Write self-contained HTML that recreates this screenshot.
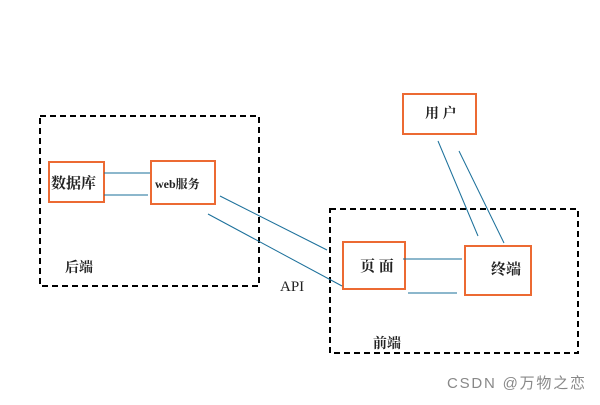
<!DOCTYPE html>
<html><head><meta charset="utf-8"><style>
body{margin:0;background:#fff;}
svg text{font-family:"Liberation Serif","Noto Serif CJK SC",serif;font-size:14px;fill:#222;font-weight:bold}
</style></head><body>
<svg width="600" height="400" xmlns="http://www.w3.org/2000/svg">
<rect width="600" height="400" fill="#fff"/>
<g fill="none" stroke="#000" stroke-width="2" stroke-dasharray="6,4">
<rect x="40" y="116" width="219" height="170"/>
<rect x="330" y="209" width="248" height="144"/>
</g>
<g fill="none" stroke="#ec6a33" stroke-width="2">
<rect x="49" y="162" width="55" height="40"/>
<rect x="151" y="161" width="64" height="43"/>
<rect x="343" y="242" width="62" height="47"/>
<rect x="465" y="246" width="66" height="49"/>
<rect x="403" y="94" width="73" height="40"/>
</g>
<g stroke="#1a6f9a" stroke-width="1">
<line x1="104" y1="173" x2="150" y2="173"/>
<line x1="104" y1="195" x2="148" y2="195"/>
<line x1="220" y1="196" x2="327" y2="250"/>
<line x1="208" y1="214" x2="342" y2="286"/>
<line x1="403" y1="259" x2="462" y2="259"/>
<line x1="408" y1="293" x2="457" y2="293"/>
<line x1="438" y1="141" x2="478" y2="236"/>
<line x1="459" y1="151" x2="504" y2="243"/>
</g>
<text x="51" y="188" style="font-size:15px">数据库</text>
<text x="155" y="188" style="font-size:12px">web服务</text>
<text x="360" y="271" style="font-size:15px">页 面</text>
<text x="491" y="274" style="font-size:15px">终端</text>
<text x="425" y="118">用 户</text>
<text x="65" y="272">后端</text>
<text x="373" y="348">前端</text>
<text x="280" y="291" style="font-weight:normal;font-size:15px">API</text>
<text x="447" y="388" textLength="138" style="font-family:'Liberation Sans','Noto Sans CJK SC',sans-serif;font-weight:normal;fill:#888;font-size:15px">CSDN @万物之恋</text>
</svg>
</body></html>
